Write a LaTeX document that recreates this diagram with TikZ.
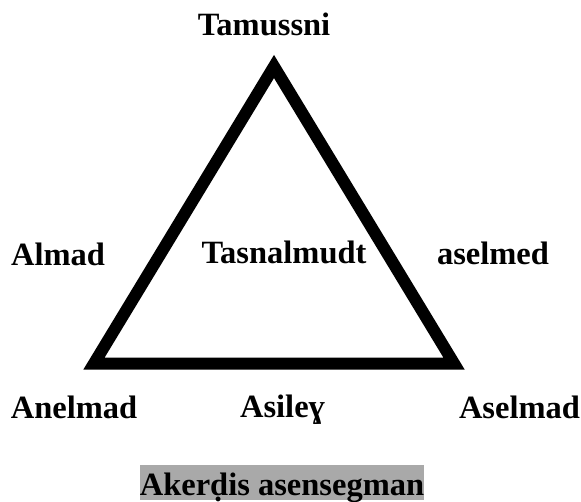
\documentclass[tikz,border=0pt]{standalone}
\usepackage{fontspec}
\setmainfont{Liberation Serif}
\definecolor{boxgray}{RGB}{169,169,169}
\begin{document}
\begin{tikzpicture}[x=1pt,y=-1pt,
  lbl/.style={font=\fontsize{32.5}{38}\selectfont\bfseries, inner sep=0pt, anchor=base},
  tri/.style={line width=12pt, line join=miter}]
\useasboundingbox (0,0) rectangle (581,501);
\coordinate (top) at (274,66.5);
\coordinate (bl) at (94,363.5);
\coordinate (br) at (454,363.5);
\draw[tri] (top) -- (bl) -- (br) -- cycle;
\node[lbl] (tamussni) at (264,35) {Tamussni};
\node[lbl] (almad) at (58,265) {Almad};
\node[lbl] (tasnalmudt) at (284,263) {Tasnalmudt};
\node[lbl] (aselmed) at (493,264) {aselmed};
\node[lbl] (anelmad) at (74,418) {Anelmad};
\node[lbl] (asiley) at (282.5,417) {Asileɣ};
\node[lbl] (aselmad) at (519.5,418) {Aselmad};
\node[lbl, anchor=north, fill=boxgray, minimum width=280pt, text height=30pt, text depth=5pt] (caption) at (282,465) {Akerḍis asensegman};
\end{tikzpicture}
\end{document}
